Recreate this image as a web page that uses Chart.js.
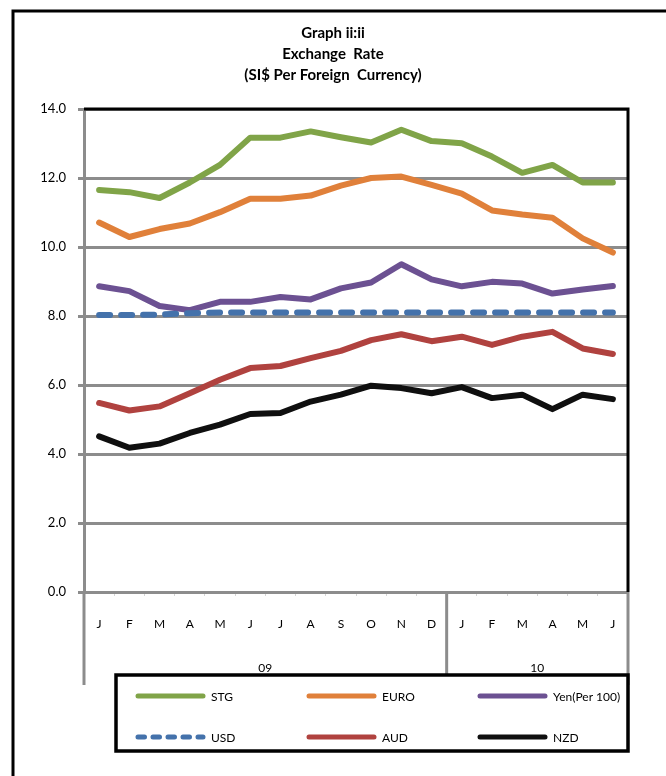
<!DOCTYPE html>
<html>
<head>
<meta charset="utf-8">
<script src="https://cdn.jsdelivr.net/npm/chart.js@4"></script>
<style>
  html, body { margin: 0; padding: 0; background: #fff; }
  #wrap { width: 666px; height: 776px; }
</style>
</head>
<body>
<div id="wrap"><canvas id="c" width="666" height="776"></canvas></div>
<script>
// Monthly categories, Jan 2009 - Jun 2010
const months = ['J','F','M','A','M','J','J','A','S','O','N','D','J','F','M','A','M','J'];
const years = ['09', '10'];
const yearSpans = [12, 6];

// SI$ per unit of foreign currency
const stg  = [11.65, 11.59, 11.42, 11.87, 12.38, 13.17, 13.17, 13.35, 13.18, 13.03, 13.40, 13.07, 13.01, 12.62, 12.15, 12.38, 11.87, 11.87];
const euro = [10.71, 10.29, 10.52, 10.68, 11.01, 11.40, 11.40, 11.49, 11.78, 12.00, 12.04, 11.80, 11.55, 11.06, 10.94, 10.85, 10.25, 9.84];
const yen  = [8.86, 8.72, 8.29, 8.17, 8.41, 8.41, 8.55, 8.48, 8.80, 8.97, 9.50, 9.06, 8.86, 8.99, 8.94, 8.65, 8.77, 8.87];
const usd  = [8.03, 8.03, 8.04, 8.08, 8.10, 8.10, 8.10, 8.10, 8.10, 8.10, 8.10, 8.10, 8.10, 8.10, 8.10, 8.10, 8.10, 8.10];
const aud  = [5.48, 5.26, 5.38, 5.76, 6.15, 6.49, 6.55, 6.78, 6.99, 7.30, 7.47, 7.27, 7.40, 7.16, 7.40, 7.54, 7.06, 6.90];
const nzd  = [4.51, 4.18, 4.30, 4.61, 4.85, 5.16, 5.19, 5.52, 5.72, 5.98, 5.91, 5.76, 5.94, 5.62, 5.72, 5.30, 5.72, 5.59];

const titleLines = ['Graph ii:ii', 'Exchange  Rate', '(SI$ Per Foreign  Currency)'];

const FONT = 'Lato, "Open Sans", "Liberation Sans", sans-serif';
const GRID = '#8c8c8c';

function series(label, data, color, extra) {
  return Object.assign({
    label, data,
    borderColor: color,
    backgroundColor: color,
    borderWidth: 6,
    borderCapStyle: 'round',
    borderJoinStyle: 'round',
    pointRadius: 0,
    pointHoverRadius: 0,
    tension: 0,
    fill: false
  }, extra || {});
}

const datasets = [
  series('STG', stg, '#80a448'),
  series('EURO', euro, '#e0803a'),
  series('Yen(Per 100)', yen, '#6c5192'),
  series('USD', usd, '#4472ab', { borderDash: [11, 11], order: -1 }),
  series('AUD', aud, '#b0423f'),
  series('NZD', nzd, '#0f0f0f')
];

// Frame, title, year grouping and boxed legend
const decor = {
  id: 'decor',
  afterDraw(chart) {
    const ctx = chart.ctx;
    const a = chart.chartArea;
    const xs = chart.scales.x;
    ctx.save();

    // outer frame
    ctx.strokeStyle = '#000';
    ctx.lineWidth = 3;
    ctx.beginPath();
    ctx.moveTo(13, 776);
    ctx.lineTo(13, 11);
    ctx.lineTo(666, 11);
    ctx.stroke();

    // title
    ctx.fillStyle = '#000';
    ctx.font = 'bold 15px ' + FONT;
    ctx.textAlign = 'center';
    ctx.textBaseline = 'middle';
    titleLines.forEach((t, i) => ctx.fillText(t, 333, 33 + i * 21));

    // plot border (top and right)
    ctx.strokeStyle = '#000';
    ctx.lineWidth = 3;
    ctx.beginPath();
    ctx.moveTo(a.left, a.top);
    ctx.lineTo(a.right, a.top);
    ctx.lineTo(a.right, a.bottom);
    ctx.stroke();

    // category group separators below the axis
    const step = (xs.getPixelForValue(1) - xs.getPixelForValue(0));
    ctx.strokeStyle = GRID;
    ctx.lineWidth = 3;
    let idx = 0;
    const bounds = [a.left];
    yearSpans.forEach(n => { idx += n; bounds.push(xs.getPixelForValue(idx - 1) + step / 2); });
    bounds.forEach(x => {
      ctx.beginPath();
      ctx.moveTo(x, a.bottom);
      ctx.lineTo(x, 685);
      ctx.stroke();
    });

    ctx.fillStyle = '#000';
    ctx.font = '12px ' + FONT;
    years.forEach((y, i) => {
      ctx.fillText(y, (bounds[i] + bounds[i + 1]) / 2, 668);
    });

    // legend
    const lx = 116, ly = 675, lw = 512, lh = 76;
    ctx.fillStyle = '#fff';
    ctx.fillRect(lx, ly, lw, lh);
    ctx.strokeStyle = '#000';
    ctx.lineWidth = 3.5;
    ctx.strokeRect(lx, ly, lw, lh);

    const cols = [136, 307, 478];
    const rows = [696, 737];
    ctx.font = '12px ' + FONT;
    ctx.textAlign = 'left';
    chart.data.datasets.forEach((ds, i) => {
      const x = cols[i % 3], y = rows[Math.floor(i / 3)];
      ctx.strokeStyle = ds.borderColor;
      ctx.lineWidth = 5;
      ctx.lineCap = 'round';
      ctx.setLineDash(ds.borderDash ? [6.5, 8.5] : []);
      ctx.beginPath();
      ctx.moveTo(x + 2, y);
      ctx.lineTo(x + 67, y);
      ctx.stroke();
      ctx.setLineDash([]);
      ctx.fillStyle = '#000';
      ctx.fillText(ds.label, x + 75, y + 1);
    });

    ctx.restore();
  }
};

new Chart(document.getElementById('c'), {
  type: 'line',
  data: { labels: months, datasets },
  options: {
    responsive: false,
    animation: false,
    events: [],
    layout: { padding: { left: 0, top: 109, right: 38, bottom: 0 } },
    plugins: { legend: { display: false }, title: { display: false }, tooltip: { enabled: false } },
    scales: {
      x: {
        offset: true,
        afterFit(s) { s.height = 184; },
        grid: { drawOnChartArea: false, drawTicks: true, tickLength: 4, color: '#d4d4d4', lineWidth: 1, offset: true },
        border: { display: false },
        ticks: { color: '#000', font: { family: FONT, size: 12 }, padding: 21, autoSkip: false, maxRotation: 0 }
      },
      y: {
        min: 0, max: 14,
        afterFit(s) { s.width = 84; },
        grid: { color: GRID, lineWidth: 3, tickLength: 6 },
        border: { color: GRID, width: 3 },
        ticks: {
          stepSize: 2, color: '#000', padding: 12,
          font: { family: FONT, size: 13 },
          callback: v => Number(v).toFixed(1)
        }
      }
    }
  },
  plugins: [decor]
});
</script>
</body>
</html>
